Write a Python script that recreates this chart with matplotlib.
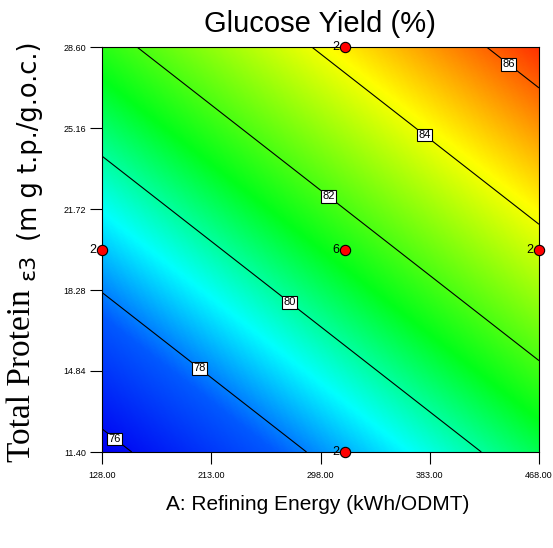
import numpy as np
import matplotlib
matplotlib.use("Agg")
import matplotlib.pyplot as plt
from matplotlib.colors import LinearSegmentedColormap

# Factor ranges
x_range = [128.0, 468.0]          # A: Refining Energy
y_range = [11.40, 28.60]          # Total Protein
x_ticks = [128.00, 213.00, 298.00, 383.00, 468.00]
y_ticks = [11.40, 14.84, 18.28, 21.72, 25.16, 28.60]

b0 = 81.13      # intercept at design centre
bA = 2.50       # coded coefficient for A
bB = 2.97       # coded coefficient for B

contour_levels = [76, 78, 80, 82, 84, 86]
label_pos_x = [140.4, 205.6, 276.1, 306.2, 381.1, 446.7]
label_pos_y = [12.12, 15.09, 17.93, 22.41, 25.00, 28.02]

# Design points
pt_x = [128.0, 317.0, 468.0, 317.0, 317.0]
pt_y = [20.0, 20.0, 20.0, 28.6, 11.4]
pt_n = ["2", "6", "2", "2", "2"]

cmap = LinearSegmentedColormap.from_list(
    "de", [(0.0, (0, 0, 0.95)), (0.18, (0, 0.35, 1)), (0.32, (0, 1, 1)),
           (0.50, (0, 1, 0.1)), (0.78, (1, 1, 0)), (1.0, (1, 0.2, 0))])

xc = np.mean(x_range); xh = (x_range[1] - x_range[0]) / 2
yc = np.mean(y_range); yh = (y_range[1] - y_range[0]) / 2
gx = np.linspace(x_range[0], x_range[1], 300)
gy = np.linspace(y_range[0], y_range[1], 300)
X, Y = np.meshgrid(gx, gy)
Z = b0 + bA * (X - xc) / xh + bB * (Y - yc) / yh

fig = plt.figure(figsize=(5.53, 5.48), dpi=100)
ax = fig.add_axes([102/553, 1 - 452/548, 437/553, 405/548])
ax.imshow(Z, origin="lower", extent=[*x_range, *y_range], aspect="auto",
          cmap=cmap, vmin=Z.min(), vmax=Z.max(), interpolation="bilinear")
cs = ax.contour(X, Y, Z, levels=contour_levels, colors="black", linewidths=0.8)
labels = ax.clabel(cs, fmt="%d", manual=list(zip(label_pos_x, label_pos_y)),
                   inline=False, fontsize=8, colors="black")
for t in labels:
    t.set_rotation(0)
    t.set_bbox(dict(boxstyle="square,pad=0.12", fc="white", ec="black", lw=0.8))
    t.set_family("Liberation Sans")

ax.scatter(pt_x, pt_y, s=55, c="red", edgecolors="black", linewidths=0.8,
           zorder=5, clip_on=False)
for x, y, n in zip(pt_x, pt_y, pt_n):
    ax.annotate(n, (x, y), xytext=(-4, 0), textcoords="offset points",
                ha="right", va="center", fontsize=9, family="Liberation Sans",
                zorder=6, annotation_clip=False)

ax.set_xlim(*x_range)
ax.set_ylim(*y_range)
ax.set_xticks(x_ticks)
ax.set_yticks(y_ticks)
ax.set_xticklabels([f"{v:.2f}" for v in x_ticks], family="Liberation Sans", fontsize=6.5)
ax.set_yticklabels([f"{v:.2f}" for v in y_ticks], family="Liberation Sans", fontsize=6.5)
ax.tick_params(direction="out", length=8.6, width=0.8)
ax.tick_params(axis="y", pad=3)
ax.tick_params(axis="x", pad=5)
for s in ax.spines.values():
    s.set_linewidth(0.8)

fig.text(320/553, 1 - 24/548, "Glucose Yield (%)", ha="center", va="center",
         fontsize=21, family="Liberation Sans")
fig.text(318/553, 1 - 505/548, "A: Refining Energy (kWh/ODMT)", ha="center",
         va="center", fontsize=15, family="Liberation Sans")
fig.text(22/553, 1 - 376/548, "Total Protein", rotation=90, ha="center",
         va="center", fontsize=24, family="Liberation Serif")
fig.text(29/553, 1 - 267/548, "ɛ3", rotation=90, ha="center",
         va="center", fontsize=16, family="DejaVu Sans")
fig.text(30/553, 1 - 141/548, "(m g t.p./g.o.c.)", rotation=90, ha="center",
         va="center", fontsize=18.5, family="DejaVu Sans")

fig.savefig("out.png", dpi=100)
